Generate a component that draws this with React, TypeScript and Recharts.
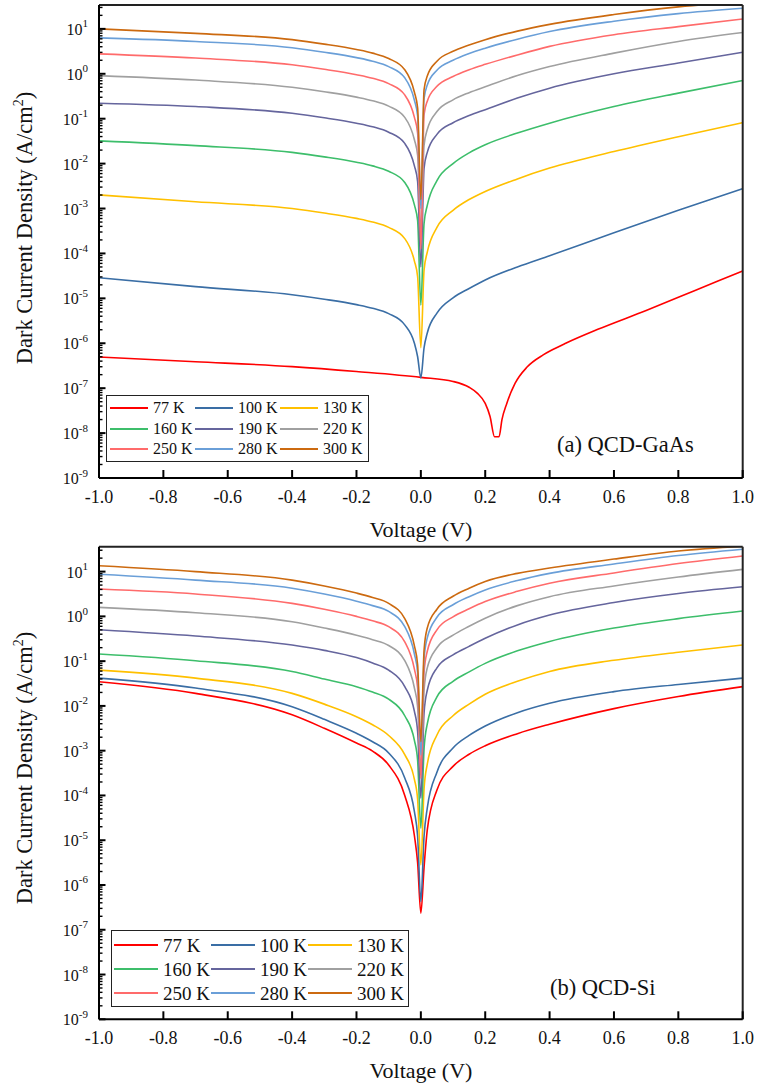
import React from 'react';
import { LineChart, Line, XAxis, YAxis, ReferenceLine, Legend } from 'recharts';

const FONT = "'Liberation Serif', 'Times New Roman', serif";

const TEMPS = ['77 K', '100 K', '130 K', '160 K', '190 K', '220 K', '250 K', '280 K', '300 K'];
const COLORS = ['#FF0000', '#3A6EA5', '#FFC000', '#3DBE6B', '#65659D', '#A0A0A0', '#FF6B6B', '#6A9FD8', '#CC6A10'];

// Voltage grid (V)
const VOLT = [-1, -0.7, -0.4, -0.3, -0.2, -0.15, -0.1, -0.05, -0.02, -0.01, 0, 0.01, 0.02, 0.05, 0.1, 0.15, 0.2, 0.3, 0.4, 0.6, 0.8, 1];
const VOLT_GAAS_77K = [-1, -0.7, -0.4, -0.2, 0, 0.1, 0.15, 0.175, 0.2, 0.215, 0.229, 0.243, 0.252, 0.267, 0.293, 0.33, 0.38, 0.41, 0.45, 0.55, 0.7, 0.85, 1];

// Values, stored as log10 of dark current density (A/cm^2)
// (a) QCD-GaAs
const GAAS_77K_LOG = [-6.305, -6.41, -6.52, -6.63, -6.76, -6.85, -6.98, -7.11, -7.34, -7.63, -8.08, -8.08, -7.7, -7.34, -6.89, -6.53, -6.26, -6.14, -6.0, -5.69, -5.27, -4.83, -4.39];
const GAAS_100K_LOG = [-4.54, -4.74, -4.92, -5.02, -5.14, -5.22, -5.34, -5.59, -6.0, -6.3, -6.77, -6.1, -5.77, -5.33, -4.99, -4.78, -4.59, -4.3, -4.05, -3.54, -3.04, -2.557];
const GAAS_130K_LOG = [-2.697, -2.85, -3.0, -3.1, -3.22, -3.3, -3.42, -3.67, -4.17, -4.52, -6.1, -4.37, -3.97, -3.42, -3.04, -2.8, -2.62, -2.34, -2.1, -1.73, -1.4, -1.087];
const GAAS_160K_LOG = [-1.494, -1.6, -1.75, -1.85, -1.97, -2.05, -2.17, -2.42, -2.92, -3.27, -5.15, -3.33, -2.93, -2.38, -2.0, -1.76, -1.58, -1.32, -1.1, -0.73, -0.43, -0.151];
const GAAS_190K_LOG = [-0.655, -0.73, -0.88, -0.98, -1.1, -1.18, -1.3, -1.55, -2.05, -2.4, -4.3, -2.1, -1.75, -1.35, -1.09, -0.93, -0.8, -0.54, -0.32, 0.0, 0.24, 0.481];
const GAAS_220K_LOG = [-0.04, -0.14, -0.3, -0.4, -0.52, -0.6, -0.72, -0.97, -1.47, -1.82, -3.5, -1.59, -1.24, -0.84, -0.58, -0.42, -0.29, -0.04, 0.16, 0.46, 0.72, 0.918];
const GAAS_250K_LOG = [0.443, 0.35, 0.2, 0.1, -0.02, -0.1, -0.22, -0.47, -0.97, -1.32, -3.9, -0.91, -0.61, -0.28, -0.06, 0.09, 0.21, 0.42, 0.61, 0.87, 1.05, 1.22];
const GAAS_280K_LOG = [0.8, 0.72, 0.58, 0.48, 0.36, 0.28, 0.16, -0.09, -0.59, -0.94, -3.0, -0.55, -0.25, 0.08, 0.3, 0.45, 0.57, 0.77, 0.94, 1.17, 1.34, 1.46];
const GAAS_300K_LOG = [1.0, 0.9, 0.76, 0.66, 0.54, 0.46, 0.34, 0.09, -0.41, -0.76, -2.8, -0.35, -0.05, 0.28, 0.5, 0.64, 0.76, 0.95, 1.1, 1.32, 1.49, 1.6];

// (b) QCD-Si
const SI_77K_LOG = [-1.46, -1.72, -2.2, -2.5, -2.83, -3.01, -3.32, -4.0, -4.9, -5.5, -6.63, -5.6, -4.77, -3.88, -3.35, -3.08, -2.89, -2.62, -2.41, -2.06, -1.79, -1.57];
const SI_100K_LOG = [-1.38, -1.6, -2.02, -2.3, -2.61, -2.8, -3.05, -3.61, -4.36, -4.91, -6.37, -4.9, -4.28, -3.48, -2.94, -2.66, -2.45, -2.15, -1.94, -1.68, -1.52, -1.38];
const SI_130K_LOG = [-1.2, -1.38, -1.72, -1.96, -2.24, -2.42, -2.66, -3.09, -3.64, -4.09, -5.55, -3.85, -3.3, -2.65, -2.22, -1.96, -1.74, -1.45, -1.23, -0.98, -0.8, -0.64];
const SI_160K_LOG = [-0.84, -0.99, -1.23, -1.4, -1.57, -1.69, -1.85, -2.22, -2.77, -3.22, -4.73, -2.95, -2.4, -1.8, -1.45, -1.24, -1.05, -0.77, -0.56, -0.26, -0.05, 0.12];
const SI_190K_LOG = [-0.3, -0.44, -0.64, -0.76, -0.92, -1.04, -1.2, -1.57, -2.12, -2.57, -4.06, -2.15, -1.65, -1.15, -0.86, -0.67, -0.49, -0.19, 0.03, 0.31, 0.51, 0.66];
const SI_220K_LOG = [0.2, 0.08, -0.12, -0.26, -0.42, -0.52, -0.65, -0.99, -1.6, -2.02, -3.4, -1.65, -1.15, -0.7, -0.42, -0.22, -0.04, 0.24, 0.44, 0.68, 0.88, 1.05];
const SI_250K_LOG = [0.61, 0.5, 0.29, 0.16, 0.0, -0.1, -0.23, -0.57, -1.18, -1.6, -3.62, -1.25, -0.78, -0.3, -0.01, 0.17, 0.33, 0.56, 0.74, 0.97, 1.18, 1.35];
const SI_280K_LOG = [0.94, 0.81, 0.63, 0.5, 0.34, 0.24, 0.11, -0.23, -0.84, -1.26, -3.1, -0.95, -0.48, -0.02, 0.26, 0.44, 0.59, 0.8, 0.96, 1.17, 1.36, 1.5];
const SI_300K_LOG = [1.13, 1.0, 0.81, 0.68, 0.52, 0.42, 0.29, -0.05, -0.66, -1.08, -2.8, -0.75, -0.26, 0.16, 0.45, 0.63, 0.78, 0.96, 1.08, 1.28, 1.46, 1.57];

// Axis ticks
const X_TICKS = [-1, -0.8, -0.6, -0.4, -0.2, 0, 0.2, 0.4, 0.6, 0.8, 1];
const X_TICK_LABELS = ['-1.0', '-0.8', '-0.6', '-0.4', '-0.2', '0.0', '0.2', '0.4', '0.6', '0.8', '1.0'];
const Y_MAJOR = [1e-9, 1e-8, 1e-7, 1e-6, 1e-5, 1e-4, 1e-3, 1e-2, 1e-1, 1, 10];
const Y_EXP_LABELS = ['-9', '-8', '-7', '-6', '-5', '-4', '-3', '-2', '-1', '0', '1'];
const MINOR_STEPS = [2, 3, 4, 5, 6, 7, 8, 9];

const GAAS_SERIES = [GAAS_77K_LOG, GAAS_100K_LOG, GAAS_130K_LOG, GAAS_160K_LOG, GAAS_190K_LOG, GAAS_220K_LOG, GAAS_250K_LOG, GAAS_280K_LOG, GAAS_300K_LOG];
const GAAS_VOLTS = [VOLT_GAAS_77K, VOLT, VOLT, VOLT, VOLT, VOLT, VOLT, VOLT, VOLT];
const SI_SERIES = [SI_77K_LOG, SI_100K_LOG, SI_130K_LOG, SI_160K_LOG, SI_190K_LOG, SI_220K_LOG, SI_250K_LOG, SI_280K_LOG, SI_300K_LOG];
const SI_VOLTS = [VOLT, VOLT, VOLT, VOLT, VOLT, VOLT, VOLT, VOLT, VOLT];

// rows for the library: current density in A/cm^2
const buildRows = (volts: number[], logs: number[]) => volts.map((v, i) => ({ v, j: Math.pow(10, logs[i]) }));

const yTicks = (max: number) => {
  const t: number[] = [];
  Y_MAJOR.forEach((m) => {
    t.push(m);
    MINOR_STEPS.forEach((k) => {
      if (m * k <= max) t.push(m * k);
    });
  });
  return t;
};

const majorIndex = (val: number) =>
  Y_MAJOR.findIndex((m) => Math.abs(Math.log10(m) - Math.log10(val)) < 1e-6);

const YTick = (props: any) => {
  const { x, y, payload } = props;
  const ax = x + 10; // tickMargin=10, tickSize=0
  const idx = majorIndex(payload.value);
  const major = idx >= 0;
  return (
    <g>
      <line x1={ax} x2={ax + (major ? 6.5 : 3.5)} y1={y} y2={y} stroke="#000" strokeWidth={major ? 2 : 1.4} />
      {major && (
        <text x={ax - 11} y={y + 6} textAnchor="end" fontFamily={FONT} fontSize={16} fill="#111">
          10<tspan dy={-7.5} fontSize={11}>{Y_EXP_LABELS[idx]}</tspan>
        </text>
      )}
    </g>
  );
};

const XTick = (props: any) => {
  const { x, y, payload } = props;
  const idx = X_TICKS.findIndex((t) => Math.abs(t - payload.value) < 1e-9);
  return (
    <g>
      <line x1={x} x2={x} y1={y} y2={y - 8} stroke="#000" strokeWidth={2} />
      <text x={x} y={y + 25} textAnchor="middle" fontFamily={FONT} fontSize={18} fill="#111">
        {idx >= 0 ? X_TICK_LABELS[idx] : ''}
      </text>
    </g>
  );
};

type LegendCfg = {
  left: number;
  top: number;
  width: number;
  height: number;
  fontSize: number;
  rowH: number;
  padTop: number;
  padLeft: number;
  colW: number;
  swatch: number;
  gap: number;
};

const LegendBox = ({ cfg }: { cfg: LegendCfg }) => (
  <div
    style={{
      boxSizing: 'border-box',
      width: cfg.width,
      height: cfg.height,
      border: '1px solid #222',
      background: '#fff',
      paddingTop: cfg.padTop,
      paddingLeft: cfg.padLeft,
      display: 'grid',
      gridTemplateColumns: `repeat(3, ${cfg.colW}px)`,
      gridAutoRows: `${cfg.rowH}px`,
      fontFamily: FONT,
      fontSize: cfg.fontSize,
      color: '#111',
    }}
  >
    {TEMPS.map((t, i) => (
      <div key={t} style={{ display: 'flex', alignItems: 'center', height: cfg.rowH, whiteSpace: 'nowrap' }}>
        <span style={{ display: 'inline-block', flex: 'none', width: cfg.swatch, height: 0, borderTop: `2px solid ${COLORS[i]}` }} />
        <span style={{ marginLeft: cfg.gap, lineHeight: 1 }}>{t}</span>
      </div>
    ))}
  </div>
);

type PanelProps = {
  series: number[][];
  volts: number[][];
  yMax: number;
  height: number;
  margin: { top: number; right: number; bottom: number; left: number };
  legend: LegendCfg;
};

const Panel = ({ series, volts, yMax, height, margin, legend }: PanelProps) => (
  <LineChart width={760} height={height} margin={margin}>
    <XAxis
      type="number"
      dataKey="v"
      domain={[-1, 1]}
      ticks={X_TICKS}
      interval={0}
      allowDataOverflow
      height={40}
      tickSize={0}
      tickMargin={0}
      tickLine={false}
      axisLine={{ stroke: '#000', strokeWidth: 2 }}
      tick={(p: any) => <XTick {...p} />}
    />
    <YAxis
      type="number"
      scale="log"
      domain={[1e-9, yMax]}
      ticks={yTicks(yMax)}
      interval={0}
      allowDataOverflow
      width={60}
      tickSize={0}
      tickMargin={10}
      tickLine={false}
      axisLine={{ stroke: '#000', strokeWidth: 2 }}
      tick={(p: any) => <YTick {...p} />}
    />
    {TEMPS.map((t, i) => (
      <Line
        key={t}
        data={buildRows(volts[i], series[i])}
        dataKey="j"
        name={t}
        stroke={COLORS[i]}
        strokeWidth={1.6}
        dot={false}
        activeDot={false}
        type="monotoneX"
        isAnimationActive={false}
      />
    ))}
    <ReferenceLine y={yMax} stroke="#222" strokeWidth={2} />
    <ReferenceLine x={1} stroke="#222" strokeWidth={2} />
    <Legend
      layout="horizontal"
      verticalAlign="middle"
      align="center"
      wrapperStyle={{ left: legend.left, top: legend.top, width: legend.width, height: legend.height, margin: 0, padding: 0 }}
      content={() => <LegendBox cfg={legend} />}
    />
  </LineChart>
);

const TOP_LEGEND: LegendCfg = {
  left: 106, top: 395, width: 263, height: 67, fontSize: 16, rowH: 20.5, padTop: 2, padLeft: 3, colW: 85, swatch: 38, gap: 5,
};
const BOTTOM_LEGEND: LegendCfg = {
  left: 111, top: 390, width: 298, height: 77, fontSize: 19, rowH: 24.2, padTop: 2, padLeft: 2, colW: 97, swatch: 44, gap: 5,
};

export default function App() {
  return (
    <div style={{ position: 'absolute', left: 0, top: 0, width: 760, height: 1090, background: '#fff' }}>
      <div style={{ position: 'absolute', left: 0, top: 0 }}>
        <Panel
          series={GAAS_SERIES}
          volts={GAAS_VOLTS}
          yMax={34}
          height={540}
          margin={{ top: 5, right: 17.3, bottom: 22, left: 39 }}
          legend={TOP_LEGEND}
        />
      </div>
      <div style={{ position: 'absolute', left: 0, top: 540 }}>
        <Panel
          series={SI_SERIES}
          volts={SI_VOLTS}
          yMax={36}
          height={550}
          margin={{ top: 6.7, right: 17.3, bottom: 30.7, left: 39 }}
          legend={BOTTOM_LEGEND}
        />
      </div>
      <svg
        width={760}
        height={1090}
        style={{ position: 'absolute', left: 0, top: 0, pointerEvents: 'none' }}
        fontFamily={FONT}
        fill="#111"
      >
        <text transform="translate(32,228) rotate(-90)" textAnchor="middle" fontSize={22.5}>
          Dark Current Density (A/cm<tspan dy={-9} fontSize={14}>2</tspan><tspan dy={9}>)</tspan>
        </text>
        <text transform="translate(32,768) rotate(-90)" textAnchor="middle" fontSize={22.5}>
          Dark Current Density (A/cm<tspan dy={-9} fontSize={14}>2</tspan><tspan dy={9}>)</tspan>
        </text>
        <text x={421} y={537} textAnchor="middle" fontSize={22}>Voltage (V)</text>
        <text x={421} y={1078} textAnchor="middle" fontSize={22}>Voltage (V)</text>
        <text x={557} y={452} fontSize={22.5}>(a) QCD-GaAs</text>
        <text x={550} y={995} fontSize={22.5}>(b) QCD-Si</text>
      </svg>
    </div>
  );
}
